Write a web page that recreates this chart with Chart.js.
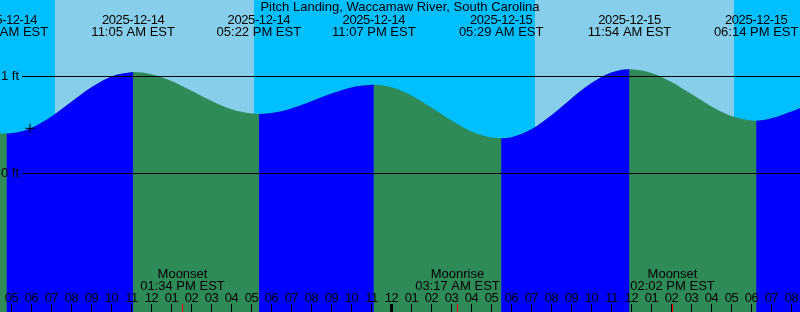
<!DOCTYPE html>
<html><head><meta charset="utf-8">
<script src="https://cdn.jsdelivr.net/npm/chart.js@4"></script>
<style>html,body{margin:0;padding:0;background:#00BFFF;overflow:hidden}#wrap{width:800px;height:312px;position:relative}</style>
</head><body><div id="wrap"><canvas id="c" width="800" height="312"></canvas></div>
<script>
const chartTitle = "Pitch Landing, Waccamaw River, South Carolina";
// hours counted from 2025-12-14 00:00 EST
const tideHours = [4.42, 4.75, 5, 6, 7, 8, 9, 10, 11, 11.083, 12, 13, 14, 15, 16, 17, 17.367, 18, 19, 20, 21, 22, 23, 23.117,
  24, 25, 26, 27, 28, 29, 29.483, 30, 31, 32, 33, 34, 35, 35.9, 36, 37, 38, 39, 40, 41, 42, 42.233, 43, 44, 44.43];
const tideHeights = [0.413, 0.41, 0.412, 0.467, 0.585, 0.736, 0.885, 0.996, 1.039, 1.04, 1.018, 0.949, 0.849, 0.744, 0.658, 0.614, 0.61, 0.619, 0.666, 0.74, 0.82, 0.883, 0.909, 0.91,
  0.884, 0.80, 0.676, 0.542, 0.43, 0.368, 0.36, 0.371, 0.454, 0.597, 0.769, 0.927, 1.036, 1.07, 1.069, 1.032, 0.939, 0.814, 0.687, 0.588, 0.542, 0.54, 0.565, 0.635, 0.67];
const extremeHours = [4.72, 11.083, 17.367, 23.117, 29.483, 35.9, 42.233];
const extremeDates = ["2025-12-14", "2025-12-14", "2025-12-14", "2025-12-14", "2025-12-15", "2025-12-15", "2025-12-15"];
const extremeTimes = ["04:43 AM EST", "11:05 AM EST", "05:22 PM EST", "11:07 PM EST", "05:29 AM EST", "11:54 AM EST", "06:14 PM EST"];
const sunriseHours = [7.175, 31.175];
const sunsetHours = [17.125, 41.125];
const moonHours = [13.567, 27.283, 38.033];
const moonEvents = ["Moonset", "Moonrise", "Moonset"];
const moonTimes = ["01:34 PM EST", "03:17 AM EST", "02:02 PM EST"];
const hourTicks = [5,6,7,8,9,10,11,12,13,14,15,16,17,18,19,20,21,22,23,24,25,26,27,28,29,30,31,32,33,34,35,36,37,38,39,40,41,42,43,44];
const hourLabels = ["05","06","07","08","09","10","11","12","01","02","03","04","05","06","07","08","09","10","11",
  "12","01","02","03","04","05","06","07","08","09","10","11","12","01","02","03","04","05","06","07","08"];
const levelValues = [1, 0];
const levelLabels = ["1 ft", "0 ft"];
const markerHour = [5.925];
const markerHeight = [0.4625];

const NIGHT = "#00BFFF", DAY = "#87CEEB", RISE = "#0000FF", FALL = "#2E8B57";
const FONT = '13px "Liberation Sans", Arial, sans-serif';
const TXT = "#000";

const overlay = {
  id: "overlay",
  beforeDatasetsDraw(chart) {
    const {ctx, chartArea: a, scales: {x}} = chart;
    ctx.save();
    ctx.fillStyle = NIGHT;
    ctx.fillRect(a.left, a.top, a.width, a.height);
    ctx.fillStyle = DAY;
    sunriseHours.forEach((r, i) => {
      const x0 = Math.round(x.getPixelForValue(r)), x1 = Math.round(x.getPixelForValue(sunsetHours[i]));
      ctx.fillRect(x0, a.top, x1 - x0, a.height);
    });
    ctx.restore();
  },
  afterDatasetsDraw(chart) {
    const {ctx, chartArea: a, scales: {x, y}} = chart;
    ctx.save();
    ctx.font = FONT;
    ctx.fillStyle = TXT;
    ctx.strokeStyle = "#000";
    ctx.lineWidth = 1;
    levelValues.forEach((v, i) => {
      const py = Math.floor(y.getPixelForValue(v)) + 0.5;
      ctx.beginPath(); ctx.moveTo(22, py); ctx.lineTo(a.right, py); ctx.stroke();
      ctx.textAlign = "left"; ctx.textBaseline = "middle";
      ctx.fillText(levelLabels[i], 1, py);
    });
    ctx.textAlign = "center"; ctx.textBaseline = "alphabetic";
    ctx.fillText(chartTitle, 400, 11);
    extremeHours.forEach((h, i) => {
      const px = x.getPixelForValue(h);
      ctx.letterSpacing = "-0.4px";
      ctx.fillText(extremeDates[i], px, 23.5);
      ctx.letterSpacing = "0px";
      ctx.fillText(extremeTimes[i], px, 36);
    });
    ctx.letterSpacing = "-0.4px";
    hourTicks.forEach((h, i) => {
      const px = Math.floor(x.getPixelForValue(h)) + 0.5;
      ctx.fillText(hourLabels[i], px, 302);
      ctx.lineWidth = (h % 24 === 0) ? 3 : 1;
      ctx.beginPath(); ctx.moveTo(px, 304); ctx.lineTo(px, 312); ctx.stroke();
    });
    ctx.letterSpacing = "0px";
    ctx.lineWidth = 1;
    ctx.strokeStyle = "#FF0000";
    moonHours.forEach((h, i) => {
      const px = Math.floor(x.getPixelForValue(h)) + 0.5;
      ctx.beginPath(); ctx.moveTo(px, 304); ctx.lineTo(px, 312); ctx.stroke();
      ctx.fillText(moonEvents[i], px, 278);
      ctx.fillText(moonTimes[i], px, 290);
    });
    ctx.restore();
  }
};

const tidePoints = tideHours.map((h, i) => ({x: h, y: tideHeights[i]}));

new Chart(document.getElementById("c"), {
  type: "line",
  data: {
    datasets: [
      {
        // current-time marker, drawn on top
        data: markerHour.map((h, i) => ({x: h, y: markerHeight[i]})),
        order: 0,
        showLine: false,
        pointStyle: "cross",
        pointRadius: 4.5,
        pointBorderColor: "#000",
        pointBorderWidth: 1,
        borderColor: "#000",
        fill: false
      },
      {
        // rising parts (blue) over the falling base
        data: tidePoints,
        order: 1,
        borderWidth: 0,
        borderColor: "rgba(0,0,0,0)",
        pointRadius: 0,
        fill: "start",
        backgroundColor: RISE,
        cubicInterpolationMode: "monotone",
        segment: {
          backgroundColor: c => c.p1.parsed.y >= c.p0.parsed.y ? RISE : "rgba(0,0,0,0)"
        }
      },
      {
        // falling base (green)
        data: tidePoints,
        order: 2,
        borderWidth: 0,
        borderColor: "rgba(0,0,0,0)",
        pointRadius: 0,
        fill: "start",
        backgroundColor: FALL,
        cubicInterpolationMode: "monotone"
      }
    ]
  },
  options: {
    responsive: false,
    animation: false,
    devicePixelRatio: 1,
    layout: {padding: 0, autoPadding: false},
    plugins: {legend: {display: false}, tooltip: {enabled: false}, title: {display: false}},
    scales: {
      x: {type: "linear", min: 4.425, max: 44.425, display: false},
      y: {min: -1.425, max: 1.781, display: false}
    }
  },
  plugins: [overlay]
});
</script>
</body></html>
